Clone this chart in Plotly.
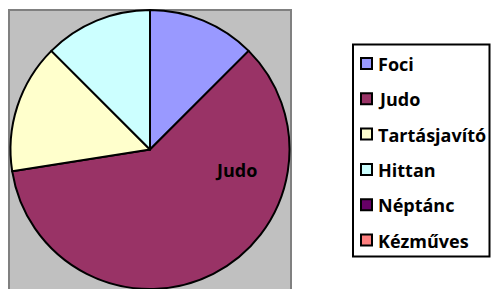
import plotly.graph_objects as go

labels = ["Foci", "Judo", "Tartásjavító", "Hittan", "Néptánc", "Kézműves"]
values = [5, 24, 6, 5, 0, 0]
colors = ["#9999FF", "#993366", "#FFFFCC", "#CCFFFF", "#660066", "#FF8080"]

W, H = 491, 289
FONT = "Open Sans"

fig = go.Figure()
fig.add_trace(go.Pie(
    labels=labels, values=values, sort=False, direction="clockwise", rotation=0,
    marker=dict(colors=colors, line=dict(color="black", width=2)),
    textinfo="none", hoverinfo="label+value+percent", showlegend=False,
    domain=dict(x=[10 / W, 290 / W], y=[0, 279 / H]),
))

def px(x): return x / W
def py(y): return 1 - y / H

shapes = [
    # gray plot area
    dict(type="rect", xref="paper", yref="paper", layer="below",
         x0=px(9), x1=px(291), y0=py(300), y1=py(10),
         fillcolor="#C0C0C0", line=dict(color="#808080", width=2)),
    # legend box
    dict(type="rect", xref="paper", yref="paper",
         x0=px(353), x1=px(489.5), y0=py(256.5), y1=py(44.5),
         fillcolor="white", line=dict(color="black", width=2), layer="below"),
]
annotations = []
for i, (lab, col) in enumerate(zip(labels, colors)):
    yc = 63.5 + 35.3 * i
    shapes.append(dict(type="rect", xref="paper", yref="paper",
                       x0=px(361), x1=px(372), y0=py(yc + 5.5), y1=py(yc - 5.5),
                       fillcolor=col, line=dict(color="black", width=2)))
    annotations.append(dict(x=px(376), y=py(yc + 0.5), xref="paper", yref="paper",
                            text="<b>" + lab + "</b>", showarrow=False,
                            xanchor="left", yanchor="middle",
                            font=dict(family=FONT, size=18, color="black")))

annotations.append(dict(x=px(236), y=py(169.5), xref="paper", yref="paper",
                        text="<b>" + labels[1] + "</b>", showarrow=False,
                        xanchor="center", yanchor="middle",
                        font=dict(family=FONT, size=18, color="black")))

fig.update_layout(
    width=W, height=H, margin=dict(l=0, r=0, t=0, b=0),
    paper_bgcolor="white", plot_bgcolor="white",
    shapes=shapes, annotations=annotations, showlegend=False,
)
fig.write_html("out.html", config={"displayModeBar": False},
               post_script="document.body.style.margin='0px';")
